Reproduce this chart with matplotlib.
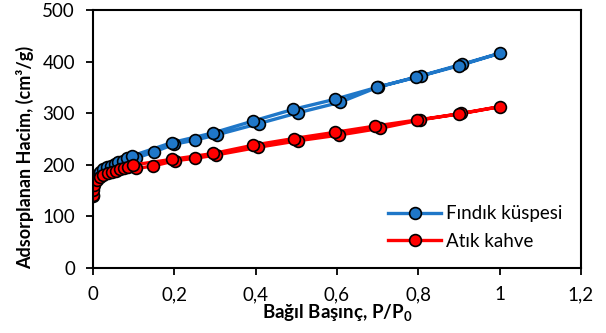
import numpy as np
import matplotlib
matplotlib.use("Agg")
import matplotlib.pyplot as plt
from matplotlib.ticker import FuncFormatter

plt.rcParams['font.family'] = ['Lato', 'DejaVu Sans']
plt.rcParams['mathtext.fontset'] = 'custom'
plt.rcParams['mathtext.rm'] = 'Lato'
plt.rcParams['mathtext.bf'] = 'Lato:bold'

# Findik kuspesi - adsorption branch then desorption branch
fk_ads_p = [0.0008, 0.001, 0.003, 0.009, 0.017, 0.025, 0.034, 0.044, 0.054, 0.062, 0.073, 0.083,
            0.106, 0.15, 0.20, 0.251, 0.304, 0.408, 0.505, 0.607, 0.702, 0.808, 0.908, 1.0]
fk_ads_v = [140, 157, 170, 180, 186.6, 191, 195, 198, 201.5, 205, 208, 212.6,
            213, 225, 240, 248, 258, 280, 301, 321, 351, 372.7, 395, 416]
fk_des_p = [0.90, 0.794, 0.698, 0.595, 0.4925, 0.394, 0.296, 0.1935, 0.095]
fk_des_v = [392, 369.5, 350, 327, 307.5, 285, 262, 243, 217]

# Atik kahve
ak_ads_p = [0.0008, 0.001, 0.003, 0.009, 0.017, 0.025, 0.036, 0.046, 0.057, 0.066, 0.077, 0.087,
            0.106, 0.148, 0.2016, 0.251, 0.302, 0.406, 0.505, 0.606, 0.706, 0.804, 0.906, 1.0]
ak_ads_v = [141, 151, 161, 170.5, 175.7, 180, 183.5, 186.6, 188.6, 191, 193, 196,
            193, 197.7, 208, 212.6, 219, 234, 246.7, 257.8, 270.7, 286.8, 299.7, 312.6]
ak_des_p = [0.90, 0.796, 0.693, 0.595, 0.494, 0.394, 0.296, 0.1935, 0.0975]
ak_des_v = [298.4, 286.8, 275, 263, 251, 238, 222, 210.6, 199.6]

fig = plt.figure(figsize=(6.06, 3.33), dpi=100)
ax = fig.add_axes([0.1535, 0.195, 0.805, 0.775])

ax.plot(fk_ads_p + fk_des_p, fk_ads_v + fk_des_v, color='#1f77c8', lw=2.4,
        marker='o', ms=8.5, mfc='#1f77c8', mec='black', mew=1.2, label='Fındık küspesi')
ax.plot(ak_ads_p + ak_des_p, ak_ads_v + ak_des_v, color='#ff0000', lw=2.4,
        marker='o', ms=8.5, mfc='#ff0000', mec='black', mew=1.2, label='Atık kahve')

ax.set_xlim(0, 1.2)
ax.set_ylim(0, 500)
ax.set_xticks(np.arange(0, 1.21, 0.2))
ax.set_yticks(np.arange(0, 501, 100))
ax.xaxis.set_major_formatter(FuncFormatter(lambda v, p: ('%g' % round(v, 1)).replace('.', ',')))
ax.tick_params(direction='out', length=5, width=1.3, labelsize=13.5, pad=8, colors='black')
for s in ax.spines.values():
    s.set_linewidth(1.5)

ax.set_xlabel('Bağıl Başınç, P/P$_\\mathbf{0}$', fontsize=13.5, fontweight='bold', labelpad=0)
ax.set_ylabel('Adsorplanan Hacim, (cm³/g)', fontsize=13, fontweight='bold')
ax.yaxis.set_label_coords(-0.12, 0.43)

ax.legend(loc='center left', bbox_to_anchor=(0.59, 0.157), frameon=False, fontsize=13.5,
          handlelength=2.8, handletextpad=0.3, labelspacing=0.55, borderaxespad=0)

fig.savefig('out.png', dpi=100)
